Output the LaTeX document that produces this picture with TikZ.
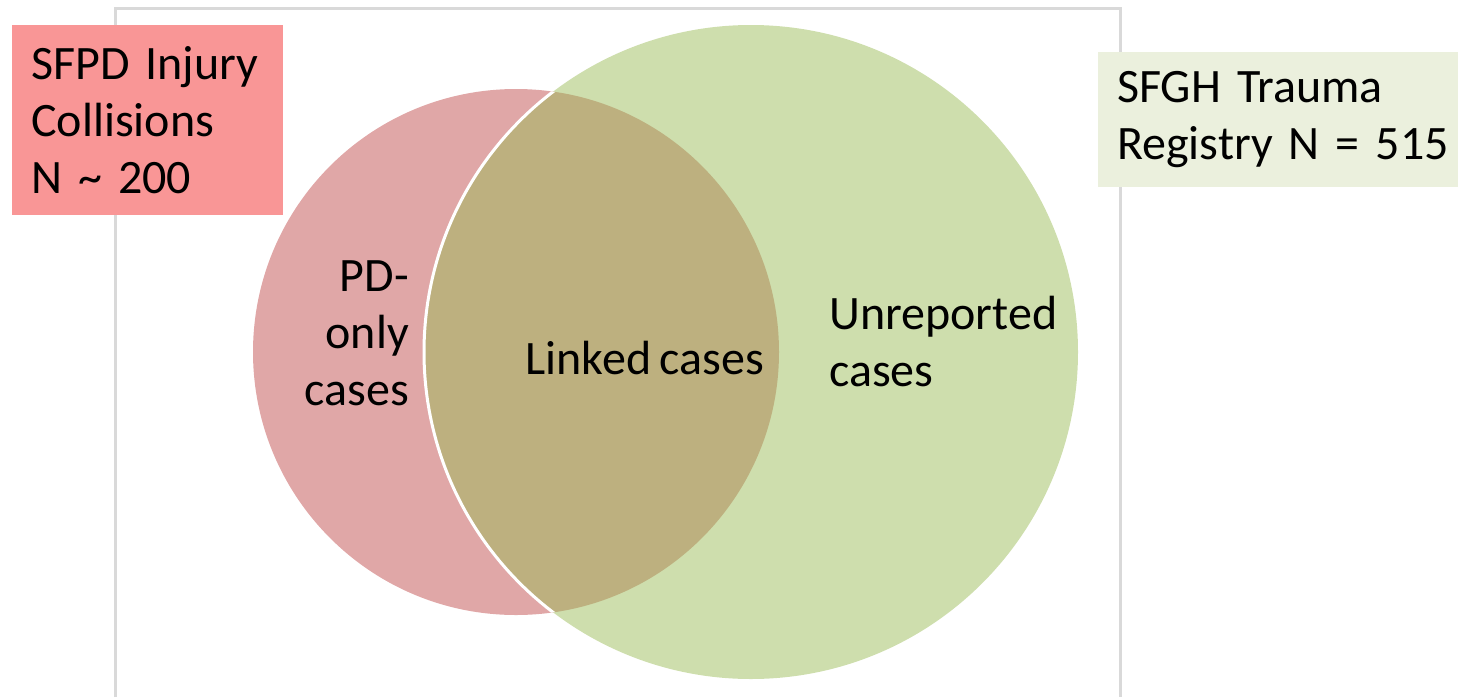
\documentclass[tikz,border=0pt]{standalone}
\usepackage{fontspec}
\setmainfont{Carlito}

\definecolor{pdred}{HTML}{E0A7A7}
\definecolor{trgreen}{HTML}{CEDEAD}
\definecolor{overlap}{HTML}{BDB07F}
\definecolor{boxred}{HTML}{F99696}
\definecolor{boxgreen}{HTML}{EBF0DD}
\definecolor{framegray}{HTML}{D9D9D9}

% large labels with a slightly tighter word space
\newcommand\casefont{\fontsize{48}{57}\selectfont\spaceskip 0.18em\relax}

\tikzset{
  txt/.style={font=\casefont, inner sep=0pt},
  setbox/.style={txt, anchor=north west, inner xsep=19pt, align=left}
}

\begin{document}
\begin{tikzpicture}[x=1pt,y=-1pt]
		\useasboundingbox (0,0) rectangle (1460,697);
		\draw[line width=3pt, framegray] (115,697) -- (115,8) -- (1120,8) -- (1120,697);

		% police and trauma sets
		\fill[pdred] (516,352) circle (263);
		\fill[trgreen] (751,352) circle (327);
		\begin{scope}
			\clip (516,352) circle (263);
			\fill[overlap] (751,352) circle (327);
			\draw[white, line width=3pt] (751,352) circle (327);
		\end{scope}

		\node[txt, align=right, anchor=east] (pdonly) at (409,333) {PD-\\only\\cases};
		\node[txt] (linked) at (645,358) {Linked cases};
		\node[txt, align=left, anchor=west] (unrep) at (829,342) {Unreported\\cases};

		\node[setbox, fill=boxred, text width=233pt, minimum height=190pt] (sfpd) at (12,25) {SFPD Injury\\Collisions\\N \textasciitilde{} 200};
		\node[setbox, fill=boxgreen, text width=322pt, minimum height=135pt] (sfgh) at (1098,52) {SFGH Trauma\\\mbox{Registry N = 515}};
	\end{tikzpicture}
\end{document}
